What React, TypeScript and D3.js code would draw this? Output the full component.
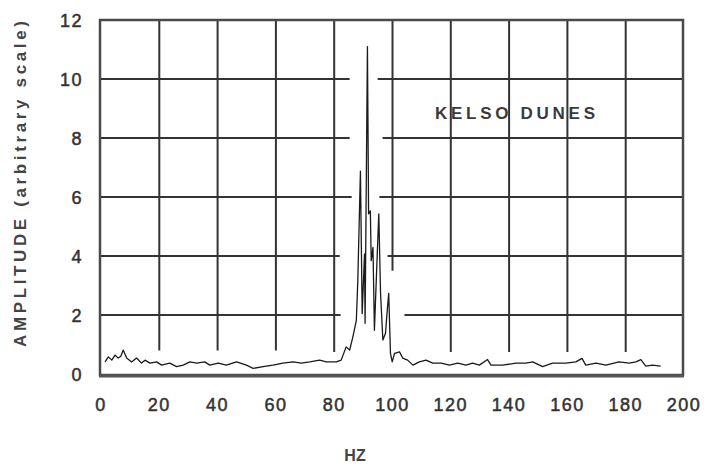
import { useEffect, useRef } from 'react';
import * as d3 from 'd3';

// spectrum (Hz, arbitrary amplitude)
const hz = [
  1.4, 2.5, 3.7, 4.8, 5.9, 6.8, 7.6, 8.8, 10.5, 12.2, 13.9, 15.1, 16.8, 19.1, 20.8, 23.6, 25.9, 28.2,
  30.5, 32.8, 35.6, 37.3, 40.2, 43.0, 46.5, 49.9, 52.2, 55.6, 59.0, 62.4, 65.9, 68.7, 71.6, 75.0,
  77.3, 80.7, 82.4, 84.1, 85.3, 86.4, 87.6, 88.1, 89.0, 89.6, 90.4, 90.6, 91.4, 91.8, 92.4, 92.7,
  93.3, 93.8, 94.6, 95.3, 95.9, 96.7, 97.6, 98.2, 98.7, 99.3, 99.9, 100.7, 102.4, 103.5, 105.2,
  107.0, 109.2, 111.5, 113.8, 116.7, 119.5, 122.4, 125.2, 127.5, 129.8, 132.6, 133.8, 137.8, 142.4,
  145.8, 148.1, 151.5, 154.9, 159.5, 162.9, 165.0, 166.3, 169.8, 173.2, 177.7, 181.2, 183.5, 185.2,
  186.9, 189.2, 192.0,
];
const amp = [
  0.41, 0.58, 0.47, 0.64, 0.54, 0.6, 0.81, 0.54, 0.41, 0.54, 0.37, 0.47, 0.37, 0.41, 0.3, 0.37, 0.25, 0.3,
  0.41, 0.37, 0.41, 0.3, 0.37, 0.3, 0.41, 0.3, 0.19, 0.25, 0.3, 0.37, 0.41, 0.37, 0.41, 0.47,
  0.41, 0.41, 0.47, 0.92, 0.81, 1.26, 1.82, 3.17, 6.88, 2.05, 4.07, 1.72, 11.1, 5.43, 5.53, 3.84,
  4.29, 1.48, 3.62, 5.43, 2.73, 1.15, 1.38, 2.16, 2.73, 0.7, 0.41, 0.7, 0.75, 0.54, 0.47,
  0.3, 0.41, 0.47, 0.37, 0.37, 0.3, 0.37, 0.3, 0.37, 0.3, 0.49, 0.3, 0.3, 0.37,
  0.37, 0.41, 0.25, 0.37, 0.37, 0.41, 0.53, 0.3, 0.37, 0.3, 0.41, 0.37, 0.41, 0.49,
  0.27, 0.3, 0.27,
];

const xTicks = [0, 20, 40, 60, 80, 100, 120, 140, 160, 180, 200];
const yTicks = [0, 2, 4, 6, 8, 10, 12];

// horizontal grid lines are broken around the peak: [level, gapFrom, gapTo] in Hz
const hGaps: [number, number, number][] = [
  [2, 82.2, 104.1],
  [4, 81.9, 98.3],
  [6, 86.0, 95.5],
  [8, 85.3, 96.6],
  [10, 85.3, 94.9],
];
// vertical grid lines stop above the trace: [Hz, lowest amplitude reached]
const vLines: [number, number][] = [
  [20, 0.8], [40, 0.8], [60, 0.8], [80, 0.75], [100, 3.5],
  [120, 0.75], [140, 0.75], [160, 0.75], [180, 0.75],
];

const App = () => {
  const ref = useRef<SVGSVGElement | null>(null);

  useEffect(() => {
    const W = 709, H = 464;
    const svg = d3.select(ref.current);
    svg.selectAll('*').remove();

    const x = d3.scaleLinear().domain([0, 200]).range([101, 684]);
    const y = d3.scaleLinear().domain([0, 12]).range([374, 20]);
    const font = '"Liberation Sans", Arial, Helvetica, sans-serif';

    svg.append('rect').attr('width', W).attr('height', H).attr('fill', '#fff');

    // grid
    const grid = svg.append('g').attr('stroke', '#333').attr('stroke-width', 2);
    hGaps.forEach(([lvl, a, b]) => {
      grid.append('line')
        .attr('x1', x(0)).attr('x2', x(a))
        .attr('y1', y(lvl)).attr('y2', y(lvl));
      grid.append('line')
        .attr('x1', x(b)).attr('x2', x(200))
        .attr('y1', y(lvl)).attr('y2', y(lvl));
    });
    vLines.forEach(([f, lo]) => {
      grid.append('line')
        .attr('x1', x(f)).attr('x2', x(f))
        .attr('y1', y(12)).attr('y2', y(lo));
    });

    // frame
    svg.append('rect')
      .attr('x', x(0) - 1).attr('y', y(12))
      .attr('width', x(200) - x(0)).attr('height', y(0) - y(12) + 1)
      .attr('fill', 'none').attr('stroke', '#4a4a4a').attr('stroke-width', 2.5);
    svg.append('line')
      .attr('x1', x(0) - 2).attr('x2', x(200))
      .attr('y1', y(0) + 2).attr('y2', y(0) + 2)
      .attr('stroke', '#555').attr('stroke-width', 3);

    // spectrum
    const pts = hz.map((h, i) => [h, amp[i]] as [number, number]);
    const line = d3.line<[number, number]>()
      .x(d => x(d[0]))
      .y(d => y(d[1]));
    svg.append('path')
      .datum(pts)
      .attr('fill', 'none')
      .attr('stroke', '#1a1a1a')
      .attr('stroke-width', 1.3)
      .attr('stroke-linejoin', 'round')
      .attr('d', line);

    // tick labels
    svg.append('g').selectAll('text').data(xTicks).join('text')
      .attr('x', d => x(d)).attr('y', 411)
      .attr('text-anchor', 'middle')
      .attr('font-family', font).attr('font-size', 18)
      .attr('letter-spacing', 1.5)
      .attr('fill', '#333').attr('stroke', '#333').attr('stroke-width', 0.5)
      .text(d => d);
    svg.append('g').selectAll('text').data(yTicks).join('text')
      .attr('x', 83).attr('y', d => y(d) + 6.5)
      .attr('text-anchor', 'end')
      .attr('font-family', font).attr('font-size', 18)
      .attr('letter-spacing', 1.5)
      .attr('fill', '#333').attr('stroke', '#333').attr('stroke-width', 0.5)
      .text(d => d);

    // axis titles
    svg.append('text')
      .attr('transform', 'translate(26,347) rotate(-90)')
      .attr('font-family', font).attr('font-size', 17)
      .attr('font-weight', 'bold')
      .attr('fill', '#444')
      .attr('textLength', 326).attr('lengthAdjust', 'spacing')
      .text('AMPLITUDE (arbitrary scale)');
    svg.append('text')
      .attr('x', 355).attr('y', 461)
      .attr('text-anchor', 'middle')
      .attr('font-family', font).attr('font-size', 16)
      .attr('font-weight', 'bold')
      .attr('fill', '#444')
      .text('HZ');

    svg.append('text')
      .attr('x', 435).attr('y', 119)
      .attr('font-family', font).attr('font-size', 17)
      .attr('font-weight', 'bold')
      .attr('fill', '#3a3a3a')
      .attr('textLength', 160).attr('lengthAdjust', 'spacing')
      .text('KELSO DUNES');
  }, []);

  return (
    <svg ref={ref} width={709} height={464}
      style={{ position: 'absolute', left: 0, top: 0, display: 'block' }} />
  );
};

export default App;
